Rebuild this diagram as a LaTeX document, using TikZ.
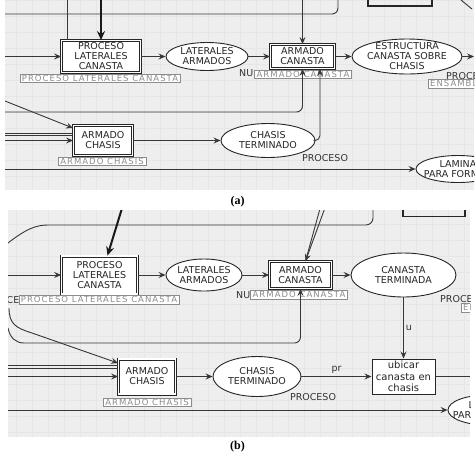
\documentclass[tikz,border=0pt]{standalone}
\usepackage{fontspec}
\setmainfont{DejaVu Sans}
\newfontfamily\lblfont[LetterSpace=12]{DejaVu Sans}
\newfontfamily\capfont{Liberation Serif}
\usetikzlibrary{shapes.geometric,arrows.meta}
\definecolor{panelbg}{RGB}{238,238,238}
\definecolor{gridc}{RGB}{230,230,230}
\definecolor{linec}{RGB}{55,55,55}
\definecolor{lblc}{RGB}{140,140,140}
\tikzset{
  conn/.style={draw=linec, line width=0.9pt},
  arr/.style={conn, -{Stealth[length=7pt,width=6pt,inset=2.5pt]}},
  thickarr/.style={draw=black!90, line width=2pt, -{Stealth[length=9pt,width=8pt,inset=3pt]}},
  dbox/.style={draw=black!85, double=white, double distance=1.4pt, line width=0.8pt, fill=white, align=center, inner sep=0pt},
  sbox/.style={draw=black!85, line width=1pt, fill=white, align=center, inner sep=0pt, font=\fontsize{10}{11.5}\selectfont},
  ell/.style={ellipse, draw=black!85, line width=0.9pt, fill=white, inner xsep=-12pt, inner ysep=-9pt, align=center},
  lbl/.style={draw=lblc, fill=white, text=lblc, font=\lblfont\fontsize{8.5}{8.5}\selectfont, inner xsep=2pt, inner ysep=0.5pt, minimum height=8.5pt},
  plain/.style={inner sep=0pt, text=black!80},
  capstyle/.style={font=\capfont\bfseries\fontsize{12}{12}\selectfont, inner sep=0pt, text=black},
  topbox/.style={draw=black!85, line width=1.3pt}
}
\begin{document}
\begin{tikzpicture}[x=1pt,y=-1pt, every node/.style={font=\fontsize{9.5}{10}\selectfont, text=black!85}]
\useasboundingbox (0,0) rectangle (476,456);

% ================= panel (a) =================
\begin{scope}
\clip (5,0) rectangle (474,190);
\fill[panelbg] (5,0) rectangle (474,190);
\draw[gridc, line width=0.4pt, step=16pt] (5,0) grid (474,190);

\node[dbox, minimum width=79pt, minimum height=32pt] (plcA) at (101,56.5) {PROCESO\\LATERALES\\CANASTA};
\node[ell, minimum width=82pt, minimum height=28pt] (laA) at (207,56.5) {LATERALES\\ARMADOS};
\node[dbox, minimum width=64pt, minimum height=24pt] (acA) at (302.5,56.5) {ARMADO\\CANASTA};
\node[ell, minimum width=110pt, minimum height=35pt] (esA) at (407,56.5) {ESTRUCTURA\\CANASTA SOBRE\\CHASIS};
\node[ell, minimum width=94pt, minimum height=34pt] (ctA) at (268,140.5) {CHASIS\\TERMINADO};
\node[dbox, minimum width=59pt, minimum height=30pt] (achA) at (103,140.5) {ARMADO\\CHASIS};
\node[ell, minimum width=84pt, minimum height=27pt] (lamA) at (458,169) {LAMINA\\PARA FORMAR};

\node[plain, anchor=west] (nuA) at (239,73) {NU};
\node[plain, anchor=west] (procA) at (446,76) {PROCESO};
\node[plain] (pA) at (325,158) {PROCESO};
\node[lbl] (lplcA) at (100,78) {PROCESO LATERALES CANASTA};
\node[lbl] (lacA) at (303,74) {ARMADO CANASTA};
\node[lbl] (lachA) at (102,161) {ARMADO CHASIS};
\node[lbl, anchor=west] (lensA) at (428,83.5) {ENSAMBLE};

\draw[topbox] (368,-5) rectangle (432,6);

\coordinate (aTopL) at (5,14);
\coordinate (aTopR) at (338,0);
\draw[conn, rounded corners=6pt] (aTopL) -| (aTopR);
\coordinate (aV1) at (67,0);
\draw[conn] (aV1) -- (aV1 |- plcA.north);
\coordinate (aV2) at (101,0);
\draw[thickarr] (aV2) -- (plcA.north);
\coordinate (aIn1) at (5,56.5);
\draw[arr] (aIn1) -- (plcA.west);
\draw[arr] (plcA) -- (laA);
\draw[arr] (laA) -- (acA);
\coordinate (aV3) at (302.5,0);
\draw[arr] (aV3) -- (acA.north);
\draw[arr] (acA) -- (esA);
\coordinate (aOut1) at (474,56.5);
\draw[arr] (esA.east) -- (aOut1);
\coordinate (aDiag) at (461,0);
\coordinate (aDiagE) at (472,9);
\draw[conn] (aDiag) -- (aDiagE);
\coordinate (aL2) at (5,112);
\draw[arr, rounded corners=6pt] (aL2) -| (acA.south);
\draw[arr, rounded corners=5pt] (ctA.east) -| ([xshift=17.5pt]acA.south);
\coordinate (aD1) at (5,101);
\draw[arr] (aD1) -- ([yshift=-3pt]achA.north west);
\coordinate (aD2) at (5,133);
\draw[conn] (aD2) -- (aD2 -| achA.west);
\coordinate (aD3) at (5,135.5);
\draw[conn] (aD3) -- (aD3 -| achA.west);
\coordinate (aIn2) at (5,140.5);
\draw[arr] (aIn2) -- (achA.west);
\draw[arr] (achA) -- (ctA);
\coordinate (aL3) at (5,169);
\draw[arr] (aL3) -- (lamA.west);
\end{scope}

\node[capstyle] (capA) at (237.5,202) {(a)};

% ================= panel (b) =================
\begin{scope}
\clip (8,210) rectangle (470,437);
\fill[panelbg] (8,210) rectangle (470,437);
\draw[gridc, line width=0.4pt, step=16pt] (8,210) grid (470,437);

\node[dbox, minimum width=76pt, minimum height=38pt] (plcB) at (99.5,275) {PROCESO\\LATERALES\\CANASTA};
\node[ell, minimum width=76pt, minimum height=32pt] (laB) at (204,275) {LATERALES\\ARMADOS};
\node[dbox, minimum width=62pt, minimum height=27pt] (acB) at (300.5,275) {ARMADO\\CANASTA};
\node[ell, minimum width=105pt, minimum height=44pt] (ctaB) at (403.5,275) {CANASTA\\TERMINADA};
\node[dbox, minimum width=57pt, minimum height=35pt] (achB) at (147,376.5) {ARMADO\\CHASIS};
\node[ell, minimum width=88pt, minimum height=40pt] (ctB) at (257,376.5) {CHASIS\\TERMINADO};
\node[sbox, minimum width=63pt, minimum height=35pt] (ubB) at (403.5,376.5) {ubicar\\canasta en\\chasis};
\node[ell, minimum width=78pt, minimum height=30pt] (lamB) at (487,410) {LAMINA\\PARA FORMAR};

\node[plain, anchor=east] (ceB) at (33,300) {PROCESO};
\node[plain, anchor=west] (nuB) at (236,295) {NU};
\node[plain, anchor=west] (procB) at (440,299) {PROCESO};
\node[plain] (pB) at (313,397) {PROCESO};
\node[lbl] (lplcB) at (99,299.5) {PROCESO LATERALES CANASTA};
\node[lbl] (lacB) at (299,294.5) {ARMADO CANASTA};
\node[lbl, anchor=west] (lensB) at (461,307.5) {ENSAMBLE};
\node[lbl] (lachB) at (147,402) {ARMADO CHASIS};

\draw[topbox] (403,204) rectangle (465,216.5);

\coordinate (bC1) at (8,243);
\coordinate (bC2) at (55,225);
\coordinate (bC3) at (373,205);
\draw[conn, rounded corners=7pt] (bC1) .. controls (26,229) and (36,225) .. (bC2) -| (bC3);
\coordinate (bT1) at (123,205);
\draw[thickarr] (bT1) -- ([xshift=8pt]plcB.north);
\coordinate (bT2) at (321,205);
\coordinate (bT3) at (326,205);
\draw[conn] (bT2) -- ([xshift=5pt]acB.north);
\draw[arr] (bT3) -- ([xshift=5pt]acB.north);
\coordinate (bIn1) at (8,275);
\draw[arr] (bIn1) -- (plcB.west);
\draw[arr] (plcB) -- (laB);
\draw[arr] (laB) -- (acB);
\draw[arr] (acB) -- (ctaB);
\draw[arr] (ctaB.south) -- (ubB.north) node[midway, right=2pt, plain] (uB) {u};
\coordinate (bL1) at (8,328);
\coordinate (bL1b) at (30,343);
\draw[arr, rounded corners=6pt] (bL1) .. controls (10,338) and (16,343) .. (bL1b) -| (acB.south);
\coordinate (bD1) at (9,308);
\coordinate (bD1b) at (32,333);
\draw[arr] (bD1) .. controls (9,324) and (16,328) .. (bD1b) -- ([yshift=-4.5pt]achB.north west);
\coordinate (bD2) at (8,365);
\draw[conn] (bD2) -- (bD2 -| achB.west);
\coordinate (bD3) at (8,368);
\draw[conn] (bD3) -- (bD3 -| achB.west);
\coordinate (bIn2) at (8,376.5);
\draw[arr] (bIn2) -- (achB.west);
\draw[arr] (achB) -- (ctB);
\draw[arr] (ctB) -- (ubB) node[midway, above=3pt, plain] (prB) {pr};
\coordinate (bOut) at (470,376.5);
\draw[conn] (ubB.east) -- (bOut);
\coordinate (bL3) at (8,410);
\draw[arr] (bL3) -- (lamB.west);
\end{scope}

\node[capstyle] (capB) at (237.5,447) {(b)};
\end{tikzpicture}
\end{document}
